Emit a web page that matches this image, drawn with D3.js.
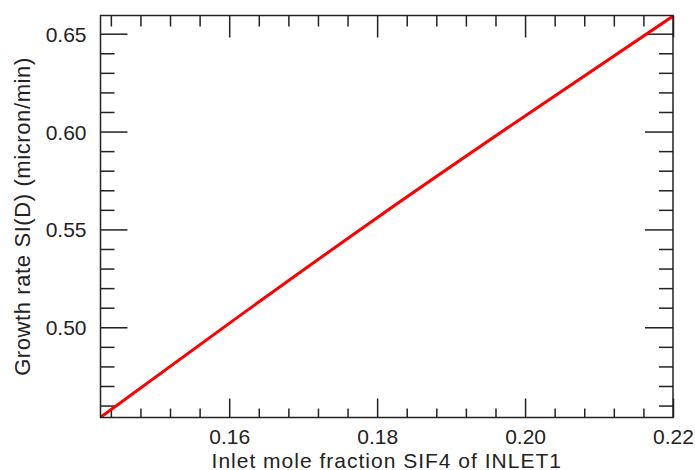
<!DOCTYPE html>
<html><head><meta charset="utf-8">
<script src="https://cdn.jsdelivr.net/npm/d3@7"></script>
<style>
html,body{margin:0;padding:0;background:#fff;}
svg{display:block;}
text{font-family:"Liberation Sans",Arial,Helvetica,sans-serif;fill:#222;}
</style></head>
<body>
<script>
// ---- data ----
const xValues = [0.1426, 0.16, 0.18, 0.20, 0.22];
const growthRate = [0.454, 0.502, 0.556, 0.608, 0.659];
const xMajorTicks = [0.16, 0.18, 0.20, 0.22];
const xTickLabels = ["0.16", "0.18", "0.20", "0.22"];
const xMinorTicks = [0.144, 0.148, 0.152, 0.156, 0.164, 0.168, 0.172, 0.176, 0.184, 0.188, 0.192, 0.196, 0.204, 0.208, 0.212, 0.216];
const yMajorTicks = [0.50, 0.55, 0.60, 0.65];
const yTickLabels = ["0.50", "0.55", "0.60", "0.65"];
const yMinorTicks = [0.46, 0.47, 0.48, 0.49, 0.51, 0.52, 0.53, 0.54, 0.56, 0.57, 0.58, 0.59, 0.61, 0.62, 0.63, 0.64];
const xDomain = [0.1426, 0.22];
const yDomain = [0.4539, 0.6593];
const xTitle = "Inlet mole fraction SIF4 of INLET1";
const yTitle = "Growth rate SI(D) (micron/min)";

const W = 695, H = 470;
const L = 100.5, R = 673, T = 15.5, B = 417.5;

const svg = d3.select("body").append("svg").attr("width", W).attr("height", H);

const x = d3.scaleLinear().domain(xDomain).range([L, R]);
const y = d3.scaleLinear().domain(yDomain).range([B, T]);

const axisColor = "#222";

function styleAxis(g) {
  g.select(".domain").remove();
  g.selectAll(".tick line").attr("stroke", axisColor).attr("stroke-width", 1.5);
}

// minor ticks
svg.append("g").attr("transform", `translate(0,${B})`)
  .call(d3.axisBottom(x).tickValues(xMinorTicks).tickSize(-9).tickFormat(""))
  .call(styleAxis);
svg.append("g").attr("transform", `translate(0,${T})`)
  .call(d3.axisTop(x).tickValues(xMinorTicks).tickSize(-11).tickFormat(""))
  .call(styleAxis);
svg.append("g").attr("transform", `translate(${L},0)`)
  .call(d3.axisLeft(y).tickValues(yMinorTicks).tickSize(-14).tickFormat(""))
  .call(styleAxis);
svg.append("g").attr("transform", `translate(${R},0)`)
  .call(d3.axisRight(y).tickValues(yMinorTicks).tickSize(-14).tickFormat(""))
  .call(styleAxis);

// major ticks
const gxB = svg.append("g").attr("transform", `translate(0,${B})`)
  .call(d3.axisBottom(x).tickValues(xMajorTicks).tickSize(-19).tickPadding(0)
    .tickFormat((d, i) => xTickLabels[i]))
  .call(styleAxis);
gxB.selectAll(".tick text").attr("y", 26).attr("dy", 0)
  .attr("font-size", 21).attr("fill", axisColor)
  .attr("font-family", '"Liberation Sans",Arial,sans-serif');

svg.append("g").attr("transform", `translate(0,${T})`)
  .call(d3.axisTop(x).tickValues(xMajorTicks).tickSize(-22).tickFormat(""))
  .call(styleAxis);

const gyL = svg.append("g").attr("transform", `translate(${L},0)`)
  .call(d3.axisLeft(y).tickValues(yMajorTicks).tickSize(-27).tickPadding(0)
    .tickFormat((d, i) => yTickLabels[i]))
  .call(styleAxis);
gyL.selectAll(".tick text").attr("x", -14).attr("dy", "0.36em")
  .attr("font-size", 21).attr("fill", axisColor)
  .attr("font-family", '"Liberation Sans",Arial,sans-serif');

svg.append("g").attr("transform", `translate(${R},0)`)
  .call(d3.axisRight(y).tickValues(yMajorTicks).tickSize(-28).tickFormat(""))
  .call(styleAxis);

// clip + line
svg.append("clipPath").attr("id", "clip").append("rect")
  .attr("x", L).attr("y", T).attr("width", R - L).attr("height", B - T);

const pts = xValues.map((v, i) => [v, growthRate[i]]);
const line = d3.line().x(d => x(d[0])).y(d => y(d[1])).curve(d3.curveMonotoneX);
svg.append("path").datum(pts)
  .attr("clip-path", "url(#clip)")
  .attr("d", line)
  .attr("fill", "none")
  .attr("stroke", "#ff0000")
  .attr("stroke-width", 3);

// frame
svg.append("rect").attr("x", L).attr("y", T).attr("width", R - L).attr("height", B - T)
  .attr("fill", "none").attr("stroke", axisColor).attr("stroke-width", 1.5);

// titles
svg.append("text")
  .attr("x", (L + R) / 2).attr("y", 467.5)
  .attr("text-anchor", "middle")
  .attr("font-size", 21).attr("letter-spacing", "1px")
  .text(xTitle);

svg.append("text")
  .attr("transform", `translate(30,${(T + B) / 2}) rotate(-90)`)
  .attr("text-anchor", "middle")
  .attr("font-size", 22).attr("letter-spacing", "0.6px")
  .text(yTitle);
</script>
</body></html>
